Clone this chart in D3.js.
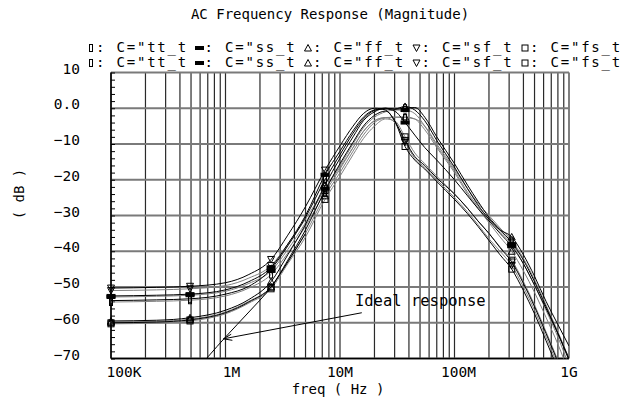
<!DOCTYPE html>
<html><head><meta charset="utf-8">
<script src="https://cdn.jsdelivr.net/npm/d3@7"></script>
<style>body{margin:0;background:#fff}svg{display:block}</style>
</head><body><svg id="c" width="635" height="402"></svg>
<script>
// ---------------- data ----------------
const freqs = [1e5, 2.5e5, 4.9e5, 1e6, 1.6e6, 2.5e6, 3.5e6, 5e6, 7.4e6, 1e7, 1.3e7, 1.6e7, 2e7, 2.5e7, 3e7, 3.7e7, 4.5e7, 5.5e7, 7e7, 1e8, 1.3e8, 1.6e8, 2e8, 2.5e8, 3.16e8, 4e8, 5e8, 6.3e8, 8e8, 1e9];
const markerIdx = [0, 2, 5, 8, 15, 24];
const corners = ["tt_t", "ss_t", "ff_t", "sf_t", "fs_t"];
// set 1 (black)
const tt1 = [-53.8,-53.6,-53.3,-52,-49.8,-45,-38.5,-30.5,-20,-13,-7,-3,-0.6,0,-0.3,0,0.2,-2.5,-8,-15.5,-21.5,-26,-30.5,-34,-37.5,-42.5,-48.5,-55.5,-63,-70.5];
const ss1 = [-52.5,-52.3,-52,-50.8,-48.5,-44.5,-38,-30,-18.6,-12,-6.3,-2.5,-0.5,-0.2,-0.8,-4,-7.5,-11,-14.5,-20,-24.5,-28,-31.5,-35,-38.6,-43.5,-49.5,-56,-63,-70];
const ff1 = [-59.5,-59.3,-58.6,-56.5,-53.5,-48.5,-41,-32.5,-21.5,-14,-8,-3.5,-1,0,-0.2,0.5,-0.5,-3.5,-9,-16.5,-22.5,-27,-31,-34,-36,-41,-47,-54,-60.5,-66.5];
const sf1 = [-50.3,-50.1,-49.8,-48.8,-46.5,-42.3,-35.5,-27.5,-17.3,-10.5,-5,-1.5,0,-0.5,-3.5,-9,-13.5,-16,-19.5,-24,-28,-31.5,-35,-39,-43,-49,-55.5,-63,-71,-79];
const fs1 = [-60,-59.8,-59.2,-57.2,-54.2,-50,-42.5,-34,-23,-15.5,-9.5,-5,-2,-0.8,-3.5,-10.7,-14.5,-17,-20.5,-25.5,-29.5,-33,-37,-41,-45,-51,-57.5,-65,-73,-81];
// set 2 (grey)
const tt2 = [-54.2,-54,-53.7,-52.5,-50.3,-46.5,-40.5,-33,-23.5,-17,-11,-6.5,-3.5,-2.6,-2.5,-2.6,-3,-5,-10,-17,-22.5,-26.5,-30,-33.5,-37,-42,-48,-55,-62.5,-70];
const ss2 = [-52.8,-52.6,-52.3,-51.2,-49,-45.5,-39.5,-32,-22.5,-16,-10,-5.5,-2.5,-1,-0.5,-0.5,-1.5,-5,-10.5,-17.5,-23.5,-27.5,-31,-34.5,-38,-43.5,-49.5,-56.5,-64,-72];
const ff2 = [-59.8,-59.6,-59,-57,-54,-50,-43,-35,-24.5,-18,-12,-7.5,-4,-2.7,-2.5,-2.4,-3,-6,-11,-18,-24,-28,-32,-36,-40,-45.5,-51.5,-58.5,-66,-74];
const sf2 = [-51,-50.8,-50.5,-49.6,-47.5,-44,-38,-31,-22.5,-16.5,-11,-6.5,-3.5,-2.6,-4,-9.5,-14,-16.5,-20,-25,-29,-32.5,-36.5,-40,-44,-50,-56.5,-64,-72,-80];
const fs2 = [-60.3,-60.1,-59.5,-57.5,-54.5,-50.5,-43.5,-36,-25.5,-19,-13,-8.5,-5,-3,-3.5,-8,-12.5,-15.5,-19,-24,-28,-31.5,-35,-38.8,-42.5,-48.5,-55,-62.5,-70.5,-78.5];
// ideal response
const idealFreqs = [5.01e5, 1e6, 1.6e6, 2.5e6, 3.5e6, 5e6];
const idealDb = [-75, -64, -57, -50, -43, -35];
const annotationText = "Ideal response";

const xTickValues = [1e5, 1e6, 1e7, 1e8, 1e9];
const xTickLabels = ["100K", "1M", "10M", "100M", "1G"];
const yTickValues = [10, 0, -10, -20, -30, -40, -50, -60, -70];
const yTickLabels = ["10", "0.0", "\u221210", "\u221220", "\u221230", "\u221240", "\u221250", "\u221260", "\u221270"];
const titleText = "AC Frequency Response (Magnitude)";
const xTitle = "freq ( Hz )";
const yTitle = "( dB )";

// ---------------- chart ----------------
const FONT = "'DejaVu Sans Mono', monospace";
const svg = d3.select("#c");
const L = 111, R = 569, T = 72.5, B = 358.5;
const x = d3.scaleLog().domain([1e5, 1e9]).range([L, R]);
const y = d3.scaleLinear().domain([-70, 10]).range([B, T]);

svg.append("defs").append("clipPath").attr("id", "clip")
  .append("rect").attr("x", L).attr("y", T).attr("width", R - L).attr("height", B - T);

// vertical grid
const gGrid = svg.append("g");
gGrid.selectAll("line.v").data(x.ticks()).join("line")
  .attr("x1", d => x(d)).attr("x2", d => x(d)).attr("y1", T).attr("y2", B)
  .attr("stroke", "#2a2a2a").attr("stroke-width", 1.2);
// horizontal grid
gGrid.selectAll("line.h").data(yTickValues).join("line")
  .attr("x1", L).attr("x2", R).attr("y1", d => y(d)).attr("y2", d => y(d))
  .attr("stroke", "#7a7a7a").attr("stroke-width", 2);

// left axis with minor ticks
const yAxis = d3.axisLeft(y).tickValues(d3.range(-70, 11, 2)).tickSize(-4).tickFormat("");
const gy = svg.append("g").attr("transform", `translate(${L},0)`).call(yAxis);
gy.select(".domain").remove();
gy.selectAll("line").attr("stroke", "#000");
svg.append("line").attr("x1", L).attr("x2", L).attr("y1", T).attr("y2", B).attr("stroke", "#000").attr("stroke-width", 1.5);
svg.append("line").attr("x1", L).attr("x2", R).attr("y1", B).attr("y2", B).attr("stroke", "#000").attr("stroke-width", 1.5);

// y tick labels
svg.append("g").selectAll("text").data(yTickValues).join("text")
  .attr("x", 80).attr("y", d => y(d) + 1)
  .attr("text-anchor", "end").attr("font-family", FONT).attr("font-size", 14.5)
  .attr("fill", "#000").text((d, i) => yTickLabels[i]);
// x tick labels
svg.append("g").selectAll("text").data(xTickValues).join("text")
  .attr("x", (d, i) => x(d) + (i === 0 ? 13 : i === 1 ? 6 : i === 3 ? 4 : 0)).attr("y", 377)
  .attr("text-anchor", "middle").attr("font-family", FONT).attr("font-size", 14.5)
  .attr("fill", "#000").text((d, i) => xTickLabels[i]);

// titles
svg.append("text").attr("x", 330).attr("y", 19).attr("text-anchor", "middle")
  .attr("font-family", FONT).attr("font-size", 14).text(titleText);
svg.append("text").attr("x", 338).attr("y", 394).attr("text-anchor", "middle")
  .attr("font-family", FONT).attr("font-size", 14).text(xTitle);
svg.append("text").attr("transform", "translate(24,194) rotate(-90)").attr("text-anchor", "middle")
  .attr("font-family", FONT).attr("font-size", 14).text(yTitle);

// series
const series = [];
const set1 = [tt1, ss1, ff1, sf1, fs1];
const set2 = [tt2, ss2, ff2, sf2, fs2];
set2.forEach((v, i) => series.push({ corner: corners[i], k: i, vals: v, color: "#808080" }));
set1.forEach((v, i) => series.push({ corner: corners[i], k: i, vals: v, color: "#000" }));

const line = d3.line().x(d => x(d[0])).y(d => y(d[1])).curve(d3.curveMonotoneX);
const gPlot = svg.append("g").attr("clip-path", "url(#clip)");
series.forEach(s => {
  gPlot.append("path").attr("d", line(freqs.map((f, i) => [f, s.vals[i]])))
    .attr("fill", "none").attr("stroke", s.color).attr("stroke-width", 1);
});
gPlot.append("path").attr("d", line(idealFreqs.map((f, i) => [f, idealDb[i]])))
  .attr("fill", "none").attr("stroke", "#000").attr("stroke-width", 1);

// marker drawing
function marker(g, k, cx, cy, color) {
  if (k === 0) g.append("rect").attr("x", cx - 1.5).attr("y", cy - 3.5).attr("width", 3).attr("height", 7).attr("fill", "none").attr("stroke", color);
  else if (k === 1) g.append("rect").attr("x", cx - 4).attr("y", cy - 1.5).attr("width", 8).attr("height", 3).attr("fill", color).attr("stroke", color);
  else if (k === 2) g.append("path").attr("d", `M${cx},${cy - 3.5}L${cx + 3.5},${cy + 3}L${cx - 3.5},${cy + 3}Z`).attr("fill", "none").attr("stroke", color);
  else if (k === 3) g.append("path").attr("d", `M${cx},${cy + 3.5}L${cx + 3.5},${cy - 3}L${cx - 3.5},${cy - 3}Z`).attr("fill", "none").attr("stroke", color);
  else g.append("rect").attr("x", cx - 3).attr("y", cy - 3).attr("width", 6).attr("height", 6).attr("fill", "none").attr("stroke", color);
}
const gMark = svg.append("g");
series.forEach(s => {
  markerIdx.forEach(i => marker(gMark, s.k, x(freqs[i]), y(s.vals[i]), "#000"));
});

// annotation
const tipF = 9.6e5, tipDb = -64.5;
const fromF = 1.55e7, fromDb = -57.2;
const ax1 = x(fromF), ay1 = y(fromDb), ax2 = x(tipF), ay2 = y(tipDb);
svg.append("line").attr("x1", ax1).attr("y1", ay1).attr("x2", ax2).attr("y2", ay2).attr("stroke", "#000").attr("stroke-width", 1);
const ang = Math.atan2(ay1 - ay2, ax1 - ax2);
[0.35, -0.35].forEach(a => {
  svg.append("line").attr("x1", ax2).attr("y1", ay2)
    .attr("x2", ax2 + 9 * Math.cos(ang + a)).attr("y2", ay2 + 9 * Math.sin(ang + a))
    .attr("stroke", "#000").attr("stroke-width", 1);
});
svg.append("text").attr("x", x(1.35e7)).attr("y", y(-55.2)).attr("font-family", FONT)
  .attr("font-size", 15.5).attr("fill", "#000").text(annotationText);

// legend (two rows)
[52, 67].forEach(ly => {
  corners.forEach((c, i) => {
    const lx = 91 + i * 108.5;
    marker(svg, i, lx, ly - 4, "#000");
    svg.append("text").attr("x", lx + 5).attr("y", ly).attr("font-family", FONT)
      .attr("font-size", 14).attr("letter-spacing", 1.8).attr("fill", "#000").text(': C="' + c);
  });
});
</script></body></html>
